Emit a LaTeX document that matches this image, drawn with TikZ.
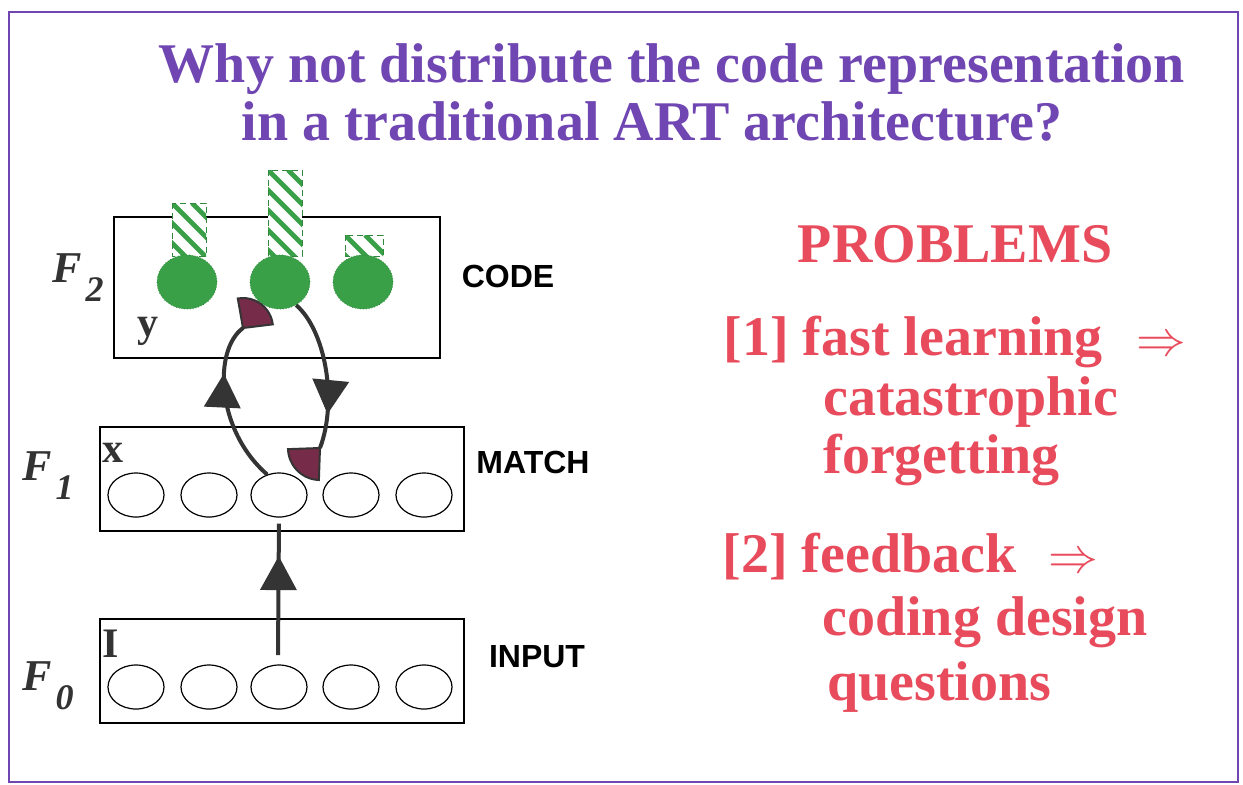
\documentclass[tikz,border=0pt]{standalone}
\usepackage{fontspec}
\setmainfont{Liberation Serif}
\setsansfont{Liberation Sans}
\usetikzlibrary{shapes.geometric}
\usetikzlibrary{arrows.meta}
\usetikzlibrary{decorations.markings}

\definecolor{titlepurple}{RGB}{112,70,178}
\definecolor{probred}{RGB}{232,76,92}
\definecolor{cellgreen}{RGB}{58,160,72}
\definecolor{synred}{RGB}{118,44,72}
\definecolor{wiregray}{RGB}{52,52,52}

\newcommand\flabel[2]{#1\kern2pt\raisebox{-9.5pt}{\fontsize{18}{18}\selectfont #2}}
% striped weight on top of a code cell
\newcommand\weightbar[4]{%
  \fill[white] (#1,#2) rectangle (#3,#4);
  \begin{scope}
    \clip (#1,#2) rectangle (#3,#4);
    \foreach \k in {-100,-80,...,40}
      \draw[stripe] ({#1+\k},#2) -- ++(100,100);
  \end{scope}
  \draw[barline] (#1,#2) rectangle (#3,#4);
}

\tikzset{
  layerbox/.style={draw=black, line width=0.8pt},
  unit/.style={ellipse, draw=black, fill=white, line width=0.6pt, minimum width=28pt, minimum height=22pt, inner sep=0pt},
  codeunit/.style={ellipse, fill=cellgreen, draw=cellgreen!85!black, densely dotted, minimum width=30pt, minimum height=27pt, inner sep=0pt},
  stripe/.style={cellgreen, line width=2.4pt},
  barline/.style={draw=cellgreen!85!black, densely dashed, line width=0.5pt},
  wire/.style={draw=wiregray, line width=2pt},
  midarrow/.style={postaction={decorate}, decoration={markings, mark=at position #1 with {\arrow[wiregray]{Triangle[length=17pt,width=18pt]}}}},
  synapse/.style={fill=synred, draw=wiregray, line width=1pt},
  titletext/.style={anchor=base, text=titlepurple, font=\fontsize{28}{30}\selectfont\bfseries},
  probtext/.style={anchor=base west, text=probred, font=\fontsize{28}{30}\selectfont\bfseries, inner sep=0pt},
  layertag/.style={font=\sffamily\bfseries\fontsize{16}{16}\selectfont},
  layername/.style={anchor=base west, inner sep=0pt, text=black!80, font=\fontsize{22}{22}\selectfont\bfseries\itshape},
  varname/.style={anchor=base west, inner sep=0pt, text=black!80, font=\fontsize{21}{21}\selectfont\bfseries}
}

\begin{document}
\begin{tikzpicture}[x=0.5pt, y={(0pt,-0.5pt)}]

\useasboundingbox (0,0) rectangle (1243,784);
\fill[white] (0,0) rectangle (1243,784);
\draw[titlepurple, line width=1pt] (9,12) rectangle (1238,782);

% title
\node[titletext] (title1) at (672,82) {Why not distribute the code representation};
\node[titletext] (title2) at (652,140) {in a traditional ART architecture?};

% layers
\draw[layerbox] (114,217) rectangle (440,358);
\draw[layerbox] (100,427) rectangle (464,531);
\draw[layerbox] (100,619) rectangle (464,723);

\foreach \n/\x in {1/136,2/209,3/279,4/351,5/424} {
  \node[unit] (m\n) at (\x,495) {};
  \node[unit] (i\n) at (\x,687) {};
}

% code cells with their weights
\weightbar{172}{203}{206}{256}
\weightbar{268}{170}{302}{256}
\weightbar{345}{235}{383}{256}
\node[codeunit] (c1) at (187,282) {};
\node[codeunit] (c2) at (280,282) {};
\node[codeunit] (c3) at (363,282) {};

% pathways
\coordinate (s1) at (243,328);
\coordinate (s2) at (320,448);
\coordinate (inp) at (278,655);
\draw[wire, midarrow=0.69] (m3.120) .. controls (216,430) and (213,350) .. (s1);
\draw[wire, midarrow=0.77] (c2.-55) .. controls (325,330) and (338,400) .. (s2);
\draw[wire, midarrow=0.72, shorten >=3pt] (inp) -- (m3.south);
\filldraw[synapse] (s1) -- ++(7:15pt) arc[start angle=7, end angle=100, radius=15pt] -- cycle;
\filldraw[synapse] (s2) -- ++(182:16pt) arc[start angle=182, end angle=268, radius=16pt] -- cycle;

% labels
\node[layername] (f2) at (52,282) {\flabel{F}{2}};
\node[layername] (f1) at (22,480) {\flabel{F}{1}};
\node[layername] (f0) at (22,690) {\flabel{F}{0}};
\node[varname] (vy) at (137,336) {y};
\node[varname] (vx) at (102,462) {x};
\node[varname] (vi) at (102,657) {I};
\node[layertag] (code) at (508,276) {CODE};
\node[layertag] (match) at (533,462) {MATCH};
\node[layertag] (input) at (537,657) {INPUT};

% problems
\node[probtext, anchor=base] (head) at (955,262) {PROBLEMS};
\node[probtext] (p1) at (723,355) {[1] fast learning\hspace{17pt}$\Rightarrow$};
\node[probtext] (p1a) at (823,415) {catastrophic};
\node[probtext] (p1b) at (823,473) {forgetting};
\node[probtext] (p2) at (722,572) {[2] feedback\hspace{16pt}$\Rightarrow$};
\node[probtext] (p2a) at (822,635) {coding design};
\node[probtext] (p2b) at (827,700) {questions};

\end{tikzpicture}
\end{document}
